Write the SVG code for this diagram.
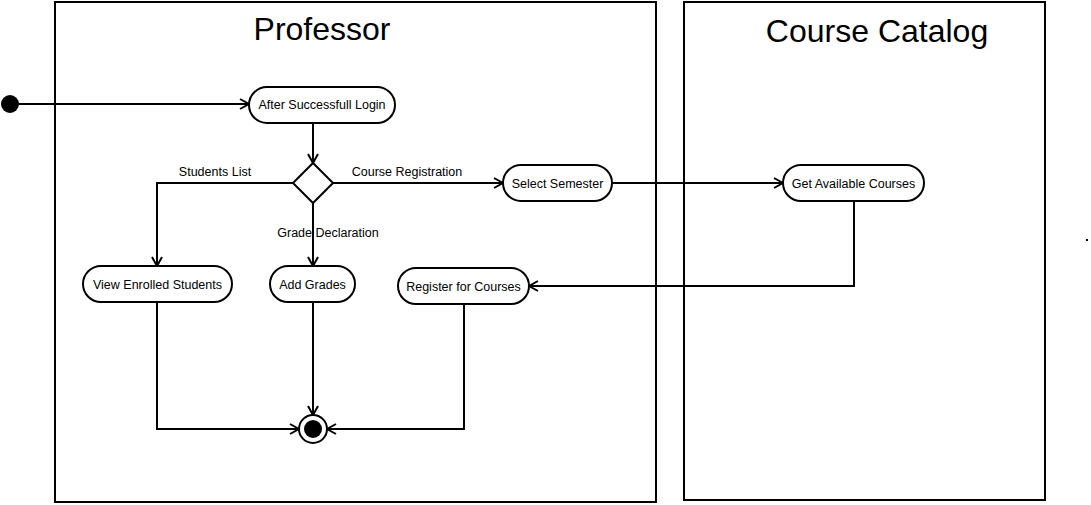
<svg xmlns="http://www.w3.org/2000/svg" width="1091" height="505" viewBox="0 0 1091 505">
<style>
.lane{fill:none;stroke:#000;stroke-width:2}
.title{font-family:"Liberation Sans",Arial,sans-serif;font-size:32px;fill:#000;text-anchor:middle}
.act{fill:#fff;stroke:#000;stroke-width:2}
.lbl{font-family:"Liberation Sans",Arial,sans-serif;font-size:12.5px;fill:#000;text-anchor:middle}
.edge{fill:none;stroke:#000;stroke-width:2;marker-end:url(#arr)}
</style>
<defs>
<marker id="arr" markerWidth="12" markerHeight="12" refX="10" refY="6" orient="auto" markerUnits="userSpaceOnUse">
<path d="M1,1 L10,6 L1,11" fill="none" stroke="#000" stroke-width="2"/>
</marker>
</defs>
<rect width="1091" height="505" fill="#fff"/>
<g id="lane-professor">
<rect class="lane" x="55" y="2" width="601" height="500"/>
<text class="title" x="322" y="40">Professor</text>
</g>
<g id="lane-catalog">
<rect class="lane" x="684" y="2" width="361" height="498"/>
<text class="title" x="877" y="42">Course Catalog</text>
</g>
<g id="connectors">
<path class="edge" d="M19,104 H249"/>
<path class="edge" d="M313,123 V163"/>
<path class="edge" d="M293,183 H157 V266"/>
<path class="edge" d="M333,183 H503"/>
<path class="edge" d="M313,203 V266"/>
<path class="edge" d="M612,183 H783"/>
<path class="edge" d="M854,201 V286 H529"/>
<path class="edge" d="M157,302 V429 H299"/>
<path class="edge" d="M313,302 V415"/>
<path class="edge" d="M464,304 V429 H327"/>
<text class="lbl" x="215" y="176">Students List</text>
<text class="lbl" x="407" y="176">Course Registration</text>
<text class="lbl" x="328" y="237">Grade Declaration</text>
</g>
<g id="initial">
<circle cx="10" cy="104" r="9" fill="#000"/>
</g>
<g id="after-login">
<rect class="act" x="249" y="87" width="146" height="36" rx="18"/>
<text class="lbl" x="322" y="109">After Successfull Login</text>
</g>
<g id="decision">
<polygon points="313,163 333,183 313,203 293,183" fill="#fff" stroke="#000" stroke-width="2"/>
</g>
<g id="select-semester">
<rect class="act" x="503" y="165" width="109" height="36" rx="18"/>
<text class="lbl" x="557.5" y="188">Select Semester</text>
</g>
<g id="get-courses">
<rect class="act" x="783" y="165" width="141" height="36" rx="18"/>
<text class="lbl" x="853.5" y="188">Get Available Courses</text>
</g>
<g id="view-enrolled">
<rect class="act" x="83" y="266" width="149" height="36" rx="18"/>
<text class="lbl" x="157.5" y="289">View Enrolled Students</text>
</g>
<g id="add-grades">
<rect class="act" x="270" y="266" width="85" height="36" rx="18"/>
<text class="lbl" x="312.5" y="289">Add Grades</text>
</g>
<g id="register">
<rect class="act" x="398" y="268" width="131" height="36" rx="18"/>
<text class="lbl" x="463.5" y="291">Register for Courses</text>
</g>
<g id="final">
<circle cx="313" cy="429" r="14" fill="#fff" stroke="#000" stroke-width="2"/>
<circle cx="313" cy="429" r="9" fill="#000"/>
</g>
<rect x="1086" y="239" width="2" height="2" fill="#000"/>
</svg>
